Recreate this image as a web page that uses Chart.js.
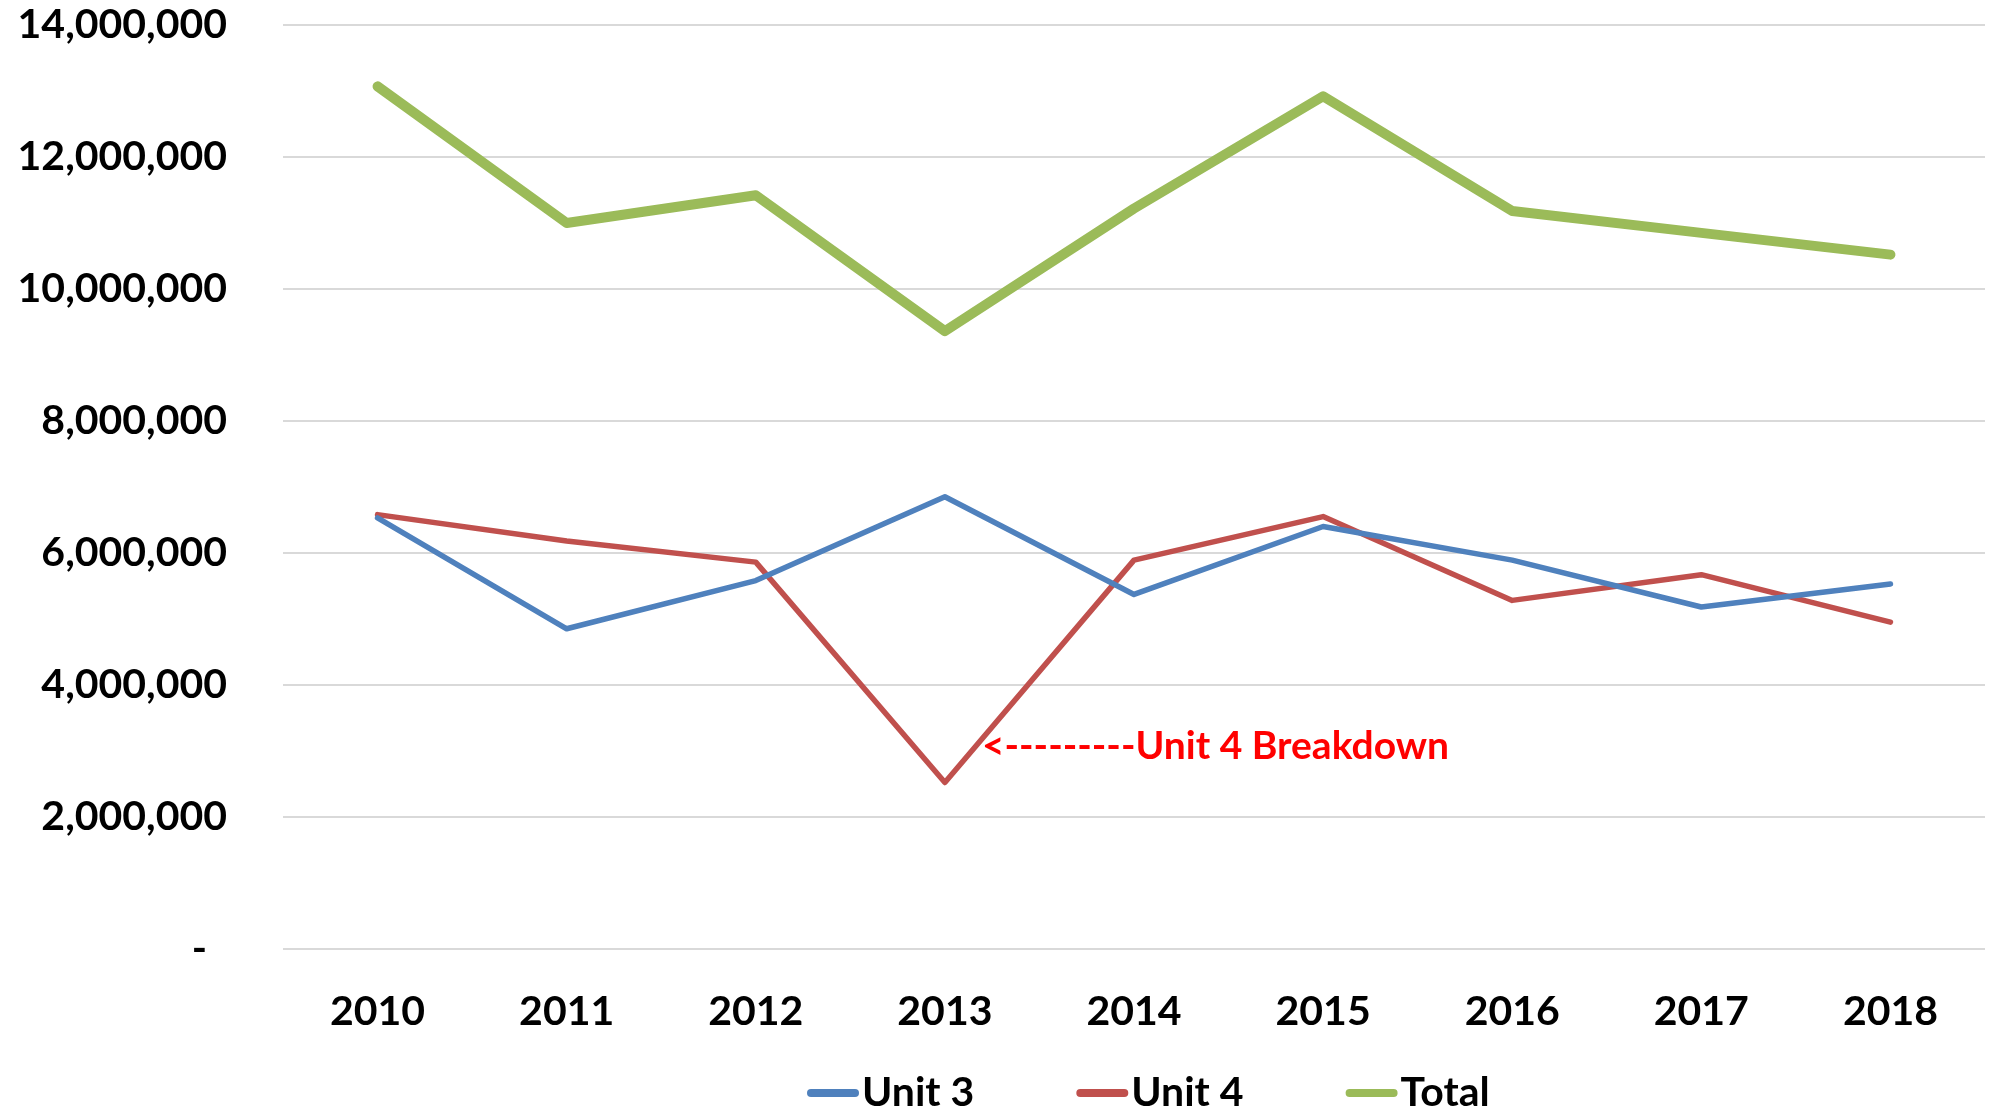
<!DOCTYPE html>
<html>
<head>
<meta charset="utf-8">
<script src="https://cdn.jsdelivr.net/npm/chart.js@4.4.1/dist/chart.umd.min.js"></script>
<style>
  html, body { margin: 0; padding: 0; background: #fff; }
  canvas { display: block; }
</style>
</head>
<body>
<canvas id="myChart" width="1997" height="1113"></canvas>
<script>
const years = ['2010', '2011', '2012', '2013', '2014', '2015', '2016', '2017', '2018'];
const unit3 = [6530000, 4850000, 5580000, 6850000, 5370000, 6400000, 5890000, 5180000, 5530000];
const unit4 = [6580000, 6180000, 5860000, 2520000, 5890000, 6550000, 5280000, 5670000, 4950000];
const total = [13070000, 11000000, 11420000, 9360000, 11220000, 12920000, 11180000, 10850000, 10520000];
const yTicks = [0, 2000000, 4000000, 6000000, 8000000, 10000000, 12000000, 14000000];
const noteText = '<---------Unit 4 Breakdown';

const font = "Lato, 'Open Sans', sans-serif";

// red note next to the 2013 dip
const notePlugin = {
  id: 'note',
  afterDatasetsDraw(chart) {
    const c = chart.ctx;
    const x = chart.scales.x.getPixelForValue(3) + 37;
    const y = chart.scales.y.getPixelForValue(3060000);
    c.save();
    c.font = 'bold 39px ' + font;
    c.fillStyle = '#FF0000';
    c.textBaseline = 'middle';
    c.textAlign = 'left';
    c.fillText(noteText, x, y);
    c.restore();
  }
};

// legend drawn by hand so the spacing can follow the original
const legendPlugin = {
  id: 'lineLegend',
  afterDraw(chart) {
    const c = chart.ctx;
    const y = chart.height - 20;
    let x = 807;
    c.save();
    c.font = 'bold 41px ' + font;
    c.textBaseline = 'middle';
    c.lineCap = 'round';
    chart.data.datasets.forEach(ds => {
      c.strokeStyle = ds.borderColor;
      c.lineWidth = 8;
      c.beginPath();
      c.moveTo(x + 4, y);
      c.lineTo(x + 48, y);
      c.stroke();
      c.fillStyle = '#000';
      c.fillText(ds.label, x + 55, y);
      x += 55 + c.measureText(ds.label).width + 102;
    });
    c.restore();
  }
};

const ctx = document.getElementById('myChart');
new Chart(ctx, {
  type: 'line',
  data: {
    labels: years,
    datasets: [{
      label: 'Unit 3',
      data: unit3,
      borderColor: '#4F81BD',
      borderWidth: 5.5,
    }, {
      label: 'Unit 4',
      data: unit4,
      borderColor: '#C0504D',
      borderWidth: 5.5,
    }, {
      label: 'Total',
      data: total,
      borderColor: '#9BBB59',
      borderWidth: 10,
    }]
  },
  options: {
    responsive: false,
    animation: false,
    elements: {
      line: { tension: 0, borderCapStyle: 'round', borderJoinStyle: 'round', fill: false },
      point: { radius: 0, hoverRadius: 0 }
    },
    layout: { padding: { top: 0, right: 12, left: 0, bottom: 47 } },
    scales: {
      x: {
        offset: true,
        grid: { display: false },
        border: { display: false },
        ticks: { color: '#000', padding: 30, font: { family: font, size: 41, weight: 'bold' } }
      },
      y: {
        min: 0,
        max: 14000000,
        afterBuildTicks(scale) { scale.ticks = yTicks.map(v => ({ value: v })); },
        afterFit(scale) {
          scale.width = 283;
          scale.paddingTop = 25;
          scale.paddingBottom = 0;
        },
        grid: { color: '#D9D9D9', lineWidth: 2, drawTicks: false },
        border: { display: false },
        ticks: {
          color: '#000',
          padding: 56,
          font: { family: font, size: 41, weight: 'bold' },
          callback: v => v === 0 ? '-  ' : v.toLocaleString('en-US')
        }
      }
    },
    plugins: {
      tooltip: { enabled: false },
      legend: { display: false }
    }
  },
  plugins: [notePlugin, legendPlugin]
});
</script>
</body>
</html>
